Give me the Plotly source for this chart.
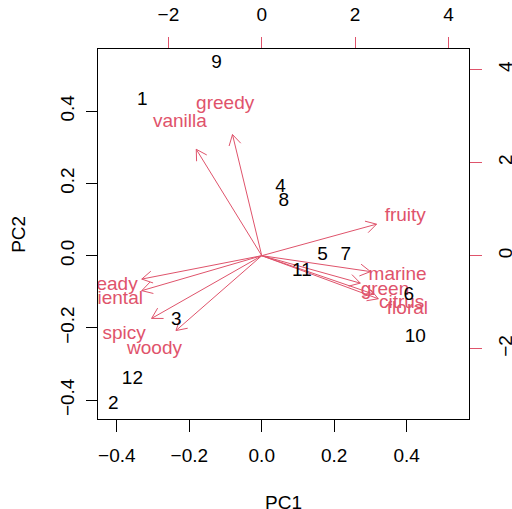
import math
import plotly.graph_objects as go

# observation scores (top / right axes)
obs_labels = ['1', '2', '3', '4', '5', '6', '7', '8', '9', '10', '11', '12']
obs_pc1 = [-2.56, -3.18, -1.83, 0.40, 1.30, 3.15, 1.80, 0.47, -0.97, 3.29, 0.86, -2.77]
obs_pc2 = [3.34, -3.20, -1.38, 1.47, 0.02, -0.86, 0.02, 1.17, 4.13, -1.75, -0.34, -2.66]

# variable loadings (bottom / left axes)
var_labels = ['fruity', 'marine', 'green', 'citrus', 'floral', 'heady', 'oriental',
              'spicy', 'woody', 'vanilla', 'greedy']
var_pc1 = [0.396, 0.375, 0.340, 0.386, 0.402, -0.414, -0.414, -0.380, -0.296, -0.226, -0.101]
var_pc2 = [0.109, -0.055, -0.095, -0.133, -0.149, -0.081, -0.121, -0.217, -0.259, 0.368, 0.419]

load_ticks = [-0.4, -0.2, 0.0, 0.2, 0.4]
score_ticks = [-2, 0, 2, 4]

RED = '#DF536B'
FONT = 'Liberation Sans, Arial, sans-serif'
FS = 19
lim = [-0.452, 0.572]
ratio = 7.76
slim = [lim[0] * ratio, lim[1] * ratio]

# arrows (shaft to 0.8 * loading, open V head)
head_len = 0.033
ang = math.radians(30)
ax_x, ax_y = [], []
for x, y in zip(var_pc1, var_pc2):
    tx, ty = 0.8 * x, 0.8 * y
    ax_x += [0, tx, None]
    ax_y += [0, ty, None]
    n = math.hypot(tx, ty)
    ux, uy = -tx / n, -ty / n
    for s in (1, -1):
        c, si = math.cos(s * ang), math.sin(s * ang)
        hx = ux * c - uy * si
        hy = ux * si + uy * c
        ax_x += [tx + head_len * hx, tx, None]
        ax_y += [ty + head_len * hy, ty, None]

fig = go.Figure()
fig.add_trace(go.Scatter(x=ax_x, y=ax_y, mode='lines', line=dict(color=RED, width=1),
                         xaxis='x', yaxis='y', hoverinfo='skip', showlegend=False))
fig.add_trace(go.Scatter(x=var_pc1, y=var_pc2, mode='text', text=var_labels,
                         textposition='middle center',
                         textfont=dict(color=RED, size=FS, family=FONT),
                         xaxis='x', yaxis='y', cliponaxis=True, showlegend=False))
fig.add_trace(go.Scatter(x=obs_pc1, y=obs_pc2, mode='text', text=obs_labels,
                         textposition='middle center',
                         textfont=dict(color='black', size=FS, family=FONT),
                         xaxis='x2', yaxis='y2', cliponaxis=True, showlegend=False))

common = dict(showgrid=False, zeroline=False, showline=True, linecolor='black',
              linewidth=1, ticks='outside', ticklen=11.5, automargin=False,
              tickfont=dict(size=FS, family=FONT, color='black'))

fig.update_layout(
    width=512, height=509,
    margin=dict(l=97.5, r=43, t=49, b=90, autoexpand=False),
    paper_bgcolor='white', plot_bgcolor='white',
    font=dict(family=FONT, size=FS, color='black'),
    xaxis=dict(range=lim, tickvals=load_ticks, tickformat='.1f', tickcolor='black',
               mirror=False, ticklabelstandoff=8, **common),
    yaxis=dict(range=lim, tickvals=load_ticks, tickformat='.1f', tickcolor='black',
               tickangle=-90, ticklabelstandoff=4, **common),
    xaxis2=dict(range=slim, tickvals=score_ticks, overlaying='x', side='top',
                tickcolor=RED, ticklabelstandoff=8, **common),
    yaxis2=dict(range=slim, tickvals=score_ticks, overlaying='y', side='right',
                tickcolor=RED, tickangle=-90, ticklabelstandoff=8, **common),
    annotations=[
        dict(text='PC1', xref='paper', yref='paper', x=0.5, y=-0.226, showarrow=False,
             xanchor='center', yanchor='middle', font=dict(size=FS, family=FONT)),
        dict(text='PC2', xref='paper', yref='paper', x=-0.216, y=0.5, showarrow=False,
             xanchor='center', yanchor='middle', textangle=-90,
             font=dict(size=FS, family=FONT)),
    ],
)

fig.write_html('out.html', config={'displayModeBar': False},
               post_script="document.body.style.margin='0';")
